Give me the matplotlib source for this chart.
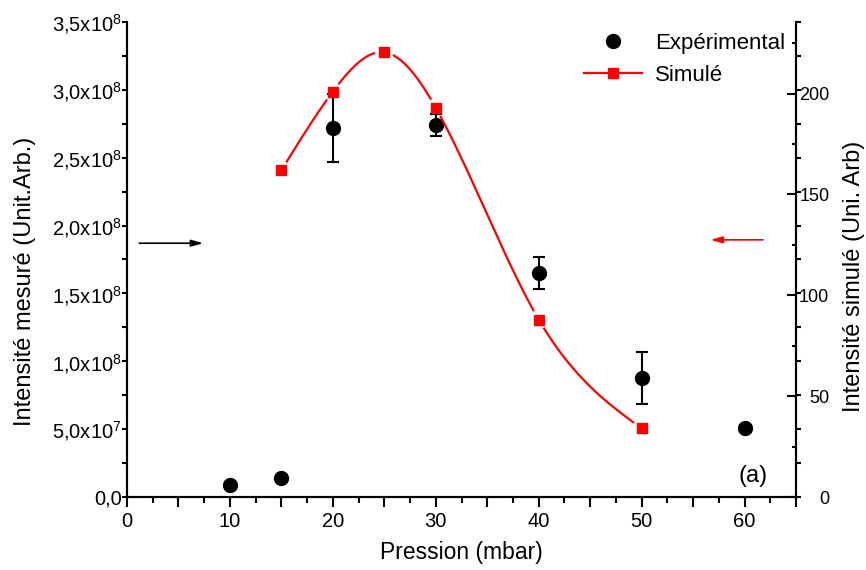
import numpy as np
import matplotlib
matplotlib.use("Agg")
import matplotlib.pyplot as plt
from matplotlib.ticker import MultipleLocator, FixedLocator, FixedFormatter
from matplotlib.lines import Line2D

plt.rcParams["font.family"] = ["Liberation Sans", "DejaVu Sans"]
plt.rcParams["mathtext.fontset"] = "custom"
plt.rcParams["mathtext.rm"] = "Liberation Sans"
plt.rcParams["mathtext.it"] = "Liberation Sans:italic"

# experimental (left axis)
pression_exp = [10, 15, 20, 30, 40, 50, 60]
intens_exp = [0.09e8, 0.14e8, 2.72e8, 2.74e8, 1.65e8, 0.875e8, 0.505e8]
err_exp = [0, 0, 0.25e8, 0.08e8, 0.12e8, 0.19e8, 0]

# simulated (right axis)
pression_sim = [15, 20, 25, 30, 40, 50]
intens_sim = [162, 201, 220.5, 193, 88, 34]

x_ticks = [0, 5, 10, 15, 20, 25, 30, 35, 40, 45, 50, 55, 60, 65]
x_labels = ["0", "", "10", "", "20", "", "30", "", "40", "", "50", "", "60", ""]
left_ticks = [0, 0.5e8, 1.0e8, 1.5e8, 2.0e8, 2.5e8, 3.0e8, 3.5e8]
left_labels = ["0,0", "5,0x10$^7$", "1,0x10$^8$", "1,5x10$^8$",
               "2,0x10$^8$", "2,5x10$^8$", "3,0x10$^8$", "3,5x10$^8$"]
right_ticks = [0, 50, 100, 150, 200]
right_labels = ["0", "50", "100", "150", "200"]


def natural_spline(x, y, xs):
    # smooth connecting line through the simulated points
    x = np.asarray(x, float)
    y = np.asarray(y, float)
    n = len(x)
    h = np.diff(x)
    A = np.zeros((n, n))
    b = np.zeros(n)
    A[0, 0] = A[-1, -1] = 1
    for i in range(1, n - 1):
        A[i, i - 1] = h[i - 1]
        A[i, i] = 2 * (h[i - 1] + h[i])
        A[i, i + 1] = h[i]
        b[i] = 6 * ((y[i + 1] - y[i]) / h[i] - (y[i] - y[i - 1]) / h[i - 1])
    M = np.linalg.solve(A, b)
    idx = np.clip(np.searchsorted(x, xs) - 1, 0, n - 2)
    x0, x1 = x[idx], x[idx + 1]
    hh = x1 - x0
    t0 = x1 - xs
    t1 = xs - x0
    return ((M[idx] * t0 ** 3 + M[idx + 1] * t1 ** 3) / (6 * hh)
            + (y[idx] / hh - M[idx] * hh / 6) * t0
            + (y[idx + 1] / hh - M[idx + 1] * hh / 6) * t1)


fig = plt.figure(figsize=(8.66, 5.7), dpi=100)
ax = fig.add_axes([127 / 866, 73 / 570, 669 / 866, 475 / 570])
ax2 = ax.twinx()

for a in (ax, ax2):
    a.spines["top"].set_visible(False)
    for s in ("left", "bottom", "right"):
        a.spines[s].set_linewidth(1.5)

# x axis
ax.set_xlim(0, 65)
ax.xaxis.set_major_locator(FixedLocator(x_ticks))
ax.xaxis.set_major_formatter(FixedFormatter(x_labels))
ax.xaxis.set_minor_locator(MultipleLocator(2.5))
ax.tick_params(axis="x", which="major", direction="out", length=7, width=1.5,
               labelsize=14.5, pad=4)
ax.tick_params(axis="x", which="minor", direction="out", length=4, width=1.5)

# left axis
ax.set_ylim(0, 3.5e8)
ax.yaxis.set_major_locator(FixedLocator(left_ticks))
ax.yaxis.set_major_formatter(FixedFormatter(left_labels))
ax.yaxis.set_minor_locator(MultipleLocator(0.25e8))
ax.tick_params(axis="y", which="both", direction="out", length=3.5, width=1.5,
               labelsize=14.5, pad=0, right=True)

# right axis, labels right-aligned a bit away from the spine
ax2.set_ylim(0, 235.5)
ax2.yaxis.set_major_locator(FixedLocator(right_ticks))
ax2.yaxis.set_major_formatter(FixedFormatter(right_labels))
ax2.yaxis.set_minor_locator(MultipleLocator(25))
ax2.tick_params(axis="y", which="major", direction="in", length=6.5, width=1.5,
                labelsize=13, pad=24)
ax2.tick_params(axis="y", which="minor", direction="in", length=3, width=1.5)
for lbl in ax2.get_yticklabels():
    lbl.set_horizontalalignment("right")

# experimental points
ax.errorbar(pression_exp, intens_exp, yerr=err_exp, fmt="o", color="black",
            ms=10, elinewidth=1.5, capsize=4.5, capthick=1.5, zorder=3,
            clip_on=False)

# simulated: smooth line with a small gap around each square
xs = np.linspace(pression_sim[0], pression_sim[-1], 600)
ys = natural_spline(pression_sim, intens_sim, xs)
curve_px = ax2.transData.transform(np.column_stack([xs, ys]))
mark_px = ax2.transData.transform(np.column_stack([pression_sim, intens_sim]))
dist = np.min(np.hypot(curve_px[:, None, 0] - mark_px[None, :, 0],
                       curve_px[:, None, 1] - mark_px[None, :, 1]), axis=1)
ys_gap = np.where(dist < 10, np.nan, ys)
ax2.plot(xs, ys_gap, color="red", lw=1.6)
ax2.plot(pression_sim, intens_sim, "s", color="red", ms=7, mec="red")

# arrows pointing to the axes
ax.annotate("", xy=(7.4, 1.87e8), xytext=(1.2, 1.87e8),
            arrowprops=dict(arrowstyle="-|>,head_length=0.7,head_width=0.2",
                            color="black", lw=1.2, mutation_scale=10,
                            shrinkA=0, shrinkB=0))
ax2.annotate("", xy=(56.7, 127.5), xytext=(61.8, 127.5),
             arrowprops=dict(arrowstyle="-|>,head_length=0.7,head_width=0.2",
                             color="red", lw=1.2, mutation_scale=10,
                             shrinkA=0, shrinkB=0))

ax.text(0.936, 0.044, "(a)", transform=ax.transAxes, ha="center", va="center",
        fontsize=17)

ax.set_xlabel("Pression (mbar)", fontsize=16.5)
ax.xaxis.set_label_coords(0.5, -0.093)
ax.set_ylabel("Intensité mesuré (Unit.Arb.)", fontsize=17)
ax.yaxis.set_label_coords(-0.136, 0.453)
ax2.set_ylabel("Intensité simulé (Uni. Arb)", fontsize=17)
ax2.yaxis.set_label_coords(1.070, 0.464)

handles = [
    Line2D([], [], ls="none", marker="o", color="black", ms=10),
    Line2D([], [], color="red", lw=1.6, marker="s", ms=7),
]
ax2.legend(handles, ["Expérimental", "Simulé"], loc="upper left",
           bbox_to_anchor=(575 / 866, 1 - 24 / 570),
           bbox_transform=fig.transFigure, frameon=False, fontsize=16,
           handlelength=2.6, handletextpad=0.6, labelspacing=0.5,
           borderaxespad=0, borderpad=0.4)

fig.savefig("out.png", dpi=100)
